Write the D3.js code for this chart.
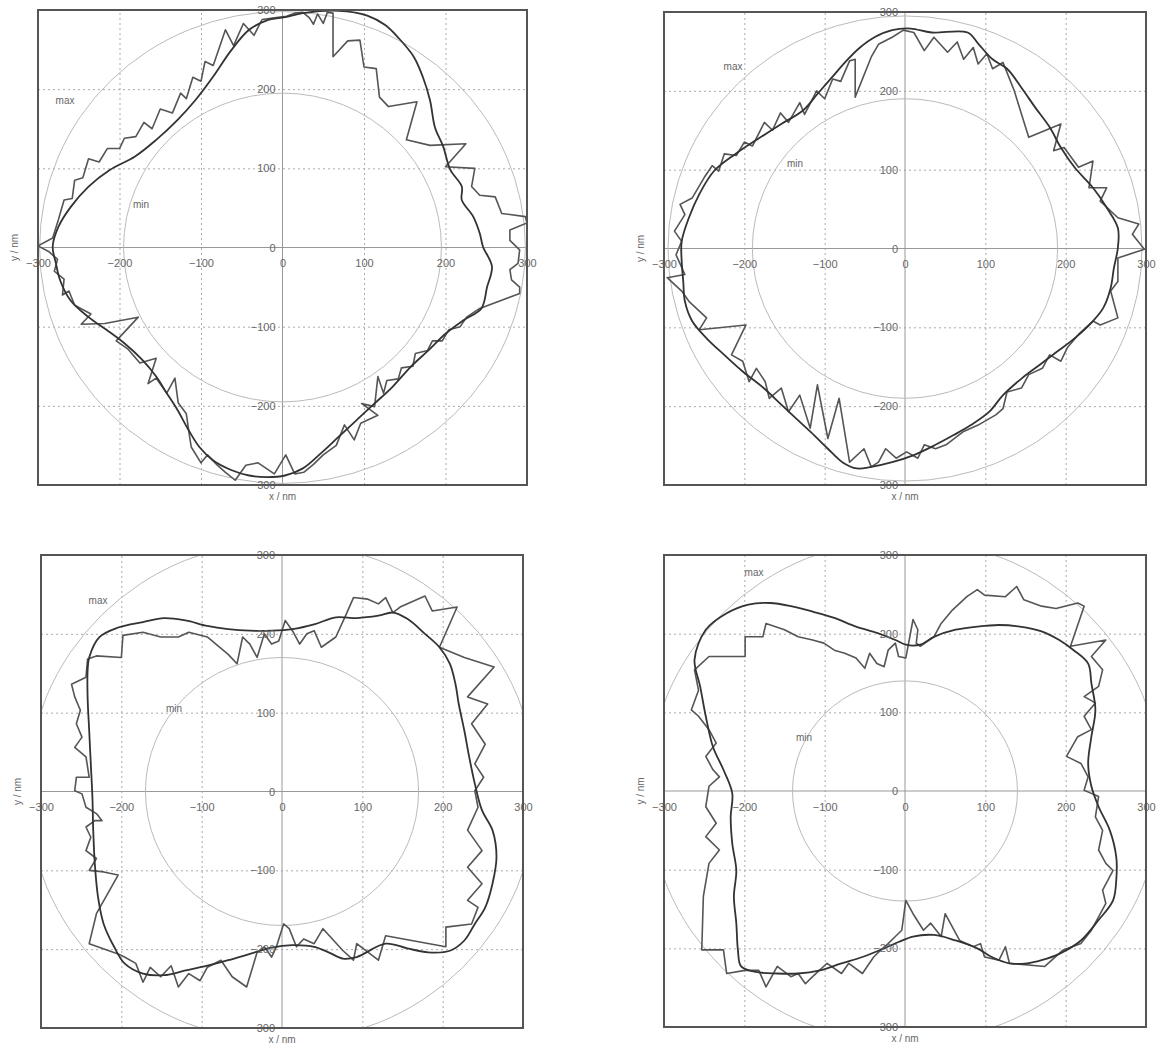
<!DOCTYPE html>
<html>
<head>
<meta charset="utf-8">
<script src="https://cdn.jsdelivr.net/npm/d3@7"></script>
<style>
  body { margin: 0; background: #fff; }
  svg { font-family: "Liberation Sans", Arial, sans-serif; }
  .tick text { fill: #666; font-size: 11px; }
  .grid line { stroke: #aaa; stroke-dasharray: 2,3; }
</style>
</head>
<body>
<svg id="chart" width="1158" height="1051"></svg>
<script>
// tick values (nm)
var ticks = [-300, -200, -100, 0, 100, 200, 300];
var gridTicks = [-200, -100, 100, 200];

// radii of the min / max reference circles (nm)
var minRadius = [195, 190, 170, 140];
var maxRadius = [298, 295, 317, 320];

// profile 1
var p1Smooth = [[3,291],[25,296],[69,299],[104,293],[126,281],[143,264],[161,241],[172,216],[181,186],[187,152],[197,128],[206,98],[220,77],[220,60],[234,39],[242,18],[246,1],[257,-24],[251,-50],[244,-77],[222,-92],[200,-109],[179,-130],[157,-151],[135,-176],[113,-197],[91,-218],[69,-239],[47,-260],[25,-279],[3,-288],[-19,-290],[-41,-288],[-63,-281],[-85,-269],[-102,-252],[-115,-231],[-129,-205],[-142,-184],[-155,-163],[-172,-142],[-194,-121],[-216,-104],[-238,-88],[-260,-67],[-273,-41],[-278,-20],[-282,1],[-275,26],[-260,51],[-238,77],[-212,98],[-181,115],[-155,136],[-129,161],[-107,186],[-85,216],[-63,249],[-41,275],[-19,287]];
var p1Zigzag = [[-48,283],[-35,268],[-25,288],[-10,290],[5,292],[15,296],[25,297],[33,290],[38,282],[43,295],[50,283],[55,297],[62,296],[62,241],[80,261],[95,262],[100,228],[115,226],[119,190],[130,178],[165,184],[152,136],[181,129],[225,131],[200,102],[236,100],[232,77],[242,66],[261,64],[269,43],[298,39],[300,31],[279,22],[279,9],[291,-3],[289,-20],[279,-28],[281,-41],[291,-50],[291,-58],[242,-77],[226,-88],[218,-100],[204,-104],[196,-118],[184,-118],[178,-130],[163,-134],[160,-150],[146,-152],[142,-166],[128,-168],[124,-184],[117,-163],[113,-201],[97,-197],[117,-212],[96,-222],[88,-243],[76,-224],[66,-250],[50,-262],[38,-274],[26,-284],[15,-286],[4,-262],[-10,-286],[-30,-272],[-45,-275],[-58,-294],[-70,-284],[-80,-275],[-92,-262],[-100,-272],[-112,-252],[-115,-232],[-118,-210],[-128,-196],[-132,-165],[-142,-184],[-155,-165],[-165,-172],[-155,-140],[-175,-146],[-190,-128],[-204,-118],[-177,-88],[-218,-96],[-247,-97],[-235,-84],[-255,-73],[-262,-55],[-270,-60],[-268,-40],[-280,-30],[-276,-15],[-287,-5],[-300,2],[-282,12],[-275,35],[-268,60],[-258,62],[-255,85],[-245,88],[-238,112],[-225,108],[-215,125],[-200,125],[-194,138],[-180,140],[-170,158],[-160,150],[-150,175],[-135,170],[-125,195],[-118,188],[-110,215],[-100,210],[-95,235],[-85,230],[-70,275],[-60,255]];

// profile 2
var p2Smooth = [[-38,268],[-16,277],[7,279],[33,274],[78,274],[91,260],[109,240],[127,228],[145,204],[162,179],[180,154],[194,128],[211,103],[234,77],[251,52],[265,26],[265,1],[260,-25],[256,-50],[247,-75],[234,-92],[211,-114],[189,-131],[167,-148],[145,-165],[122,-186],[105,-207],[82,-224],[60,-237],[38,-249],[11,-262],[-16,-271],[-42,-277],[-60,-279],[-78,-271],[-96,-254],[-113,-237],[-131,-220],[-154,-198],[-176,-177],[-202,-156],[-225,-135],[-247,-114],[-265,-92],[-274,-67],[-276,-42],[-278,-16],[-278,9],[-269,39],[-256,69],[-238,98],[-211,120],[-180,141],[-154,158],[-127,175],[-109,196],[-91,217],[-73,238],[-56,255]];
var p2Zigzag = [[-2,277],[11,274],[24,251],[36,268],[53,249],[65,262],[73,240],[85,255],[91,234],[102,247],[109,228],[122,236],[131,213],[136,200],[154,141],[194,158],[185,124],[198,128],[216,103],[234,111],[229,77],[251,77],[243,60],[265,39],[291,31],[283,18],[298,-1],[265,-12],[265,-42],[256,-54],[265,-88],[243,-97],[234,-92],[216,-109],[202,-126],[194,-143],[180,-135],[171,-152],[154,-160],[145,-177],[127,-182],[122,-203],[113,-211],[91,-224],[73,-232],[51,-249],[38,-254],[24,-249],[16,-266],[2,-258],[-11,-266],[-24,-254],[-33,-271],[-42,-277],[-51,-254],[-69,-271],[-82,-190],[-96,-241],[-109,-173],[-118,-228],[-131,-186],[-145,-207],[-154,-177],[-169,-190],[-174,-169],[-185,-152],[-194,-169],[-202,-143],[-216,-135],[-198,-97],[-256,-103],[-247,-88],[-269,-67],[-278,-54],[-296,-37],[-274,-33],[-285,-8],[-278,9],[-287,22],[-274,43],[-280,56],[-265,64],[-250,90],[-240,105],[-232,98],[-225,120],[-210,118],[-200,135],[-190,130],[-175,160],[-165,150],[-155,172],[-145,160],[-131,185],[-125,170],[-110,200],[-100,190],[-90,215],[-80,212],[-69,238],[-62,240],[-62,192],[-42,243],[-33,259],[-16,268]];

// profile 3
var p3Smooth = [[-240,170],[-227,196],[-204,208],[-173,215],[-147,220],[-120,217],[-93,210],[-67,206],[-40,204],[-13,204],[13,206],[40,212],[67,221],[93,220],[120,223],[138,227],[156,219],[178,200],[196,183],[209,162],[216,136],[220,111],[227,77],[233,44],[240,10],[249,-24],[262,-49],[267,-83],[262,-117],[253,-147],[240,-168],[227,-189],[209,-202],[182,-204],[156,-199],[129,-193],[93,-210],[76,-212],[58,-204],[40,-197],[13,-195],[-13,-198],[-40,-206],[-67,-214],[-93,-221],[-120,-227],[-147,-233],[-173,-231],[-196,-218],[-209,-197],[-222,-168],[-229,-134],[-233,-92],[-235,-49],[-236,-7],[-238,35],[-240,77],[-242,120],[-242,153]];
var p3Zigzag = [[-242,168],[-231,172],[-200,170],[-198,198],[-173,202],[-151,196],[-129,196],[-116,202],[-93,196],[-67,174],[-56,162],[-49,196],[-40,187],[-31,170],[-22,200],[-13,187],[-4,191],[4,217],[13,204],[22,187],[31,200],[40,204],[49,183],[67,196],[80,225],[89,246],[107,244],[120,238],[129,246],[138,227],[147,234],[178,248],[187,229],[218,234],[196,183],[227,170],[264,158],[231,120],[256,111],[236,86],[253,60],[240,35],[251,18],[240,1],[244,-20],[231,-49],[249,-75],[231,-96],[249,-117],[231,-138],[244,-147],[236,-168],[204,-172],[204,-197],[129,-183],[120,-214],[93,-193],[89,-214],[76,-202],[51,-174],[40,-193],[27,-187],[18,-197],[9,-174],[2,-168],[-7,-197],[-13,-210],[-22,-197],[-31,-204],[-44,-248],[-62,-235],[-76,-214],[-93,-223],[-102,-240],[-116,-231],[-129,-248],[-138,-221],[-151,-235],[-164,-223],[-173,-242],[-182,-218],[-196,-210],[-204,-206],[-240,-193],[-231,-155],[-204,-106],[-222,-102],[-240,-100],[-231,-85],[-244,-75],[-238,-58],[-244,-45],[-233,-37],[-224,-37],[-231,-28],[-244,-20],[-249,-3],[-258,1],[-256,18],[-240,18],[-244,44],[-258,56],[-249,69],[-256,86],[-251,103],[-258,120],[-262,136],[-244,145]];

// profile 4
var p4Smooth = [[-248,205],[-222,226],[-195,237],[-168,239],[-142,235],[-115,228],[-88,220],[-61,209],[-35,201],[-12,192],[1,186],[19,186],[36,196],[63,205],[90,209],[117,211],[143,209],[170,203],[192,192],[210,179],[228,162],[232,137],[237,103],[232,69],[228,35],[232,6],[241,-20],[255,-50],[263,-84],[263,-113],[259,-139],[241,-164],[219,-190],[192,-207],[170,-215],[152,-219],[130,-219],[108,-211],[90,-200],[63,-190],[36,-183],[10,-185],[-8,-192],[-26,-200],[-53,-211],[-79,-219],[-106,-228],[-133,-232],[-159,-232],[-186,-230],[-204,-223],[-208,-202],[-210,-168],[-213,-134],[-210,-101],[-215,-67],[-217,-33],[-215,-3],[-226,27],[-239,56],[-248,95],[-255,133],[-262,167]];
var p4Zigzag = [[-199,171],[-199,196],[-177,196],[-173,213],[-150,205],[-133,196],[-115,192],[-101,188],[-88,179],[-75,175],[-61,169],[-50,156],[-44,175],[-35,162],[-26,158],[-21,179],[-12,188],[-8,171],[1,169],[10,218],[16,205],[14,188],[19,184],[36,196],[45,213],[59,230],[77,247],[90,256],[99,249],[125,247],[139,260],[148,243],[170,235],[188,232],[215,239],[223,235],[206,184],[250,192],[232,171],[246,154],[241,133],[223,120],[237,112],[223,95],[232,78],[215,69],[201,44],[219,35],[228,18],[223,1],[232,-3],[241,-7],[237,-33],[246,-50],[241,-75],[250,-92],[259,-101],[246,-126],[250,-143],[241,-160],[232,-177],[219,-194],[197,-202],[174,-223],[130,-219],[125,-198],[117,-215],[99,-211],[94,-194],[85,-198],[68,-190],[50,-156],[45,-185],[32,-168],[23,-177],[10,-156],[1,-139],[-4,-177],[-12,-185],[-21,-194],[-30,-202],[-39,-211],[-53,-232],[-70,-219],[-79,-232],[-97,-219],[-115,-236],[-124,-245],[-133,-232],[-142,-236],[-159,-223],[-173,-249],[-182,-228],[-199,-228],[-222,-232],[-226,-202],[-253,-202],[-251,-134],[-244,-92],[-231,-75],[-248,-58],[-235,-41],[-248,-20],[-244,6],[-231,18],[-239,27],[-248,44],[-235,61],[-244,78],[-257,95],[-266,103],[-257,128],[-262,154],[-244,171]];

var labelNames = ["max", "min"];

// panel frames (pixels) and label spots
var panels = [
  {left: 38,  right: 527,  top: 10,  bottom: 485,  smooth: p1Smooth, zig: p1Zigzag, maxAt: [65, 104],  minAt: [141, 208]},
  {left: 664, right: 1146, top: 12,  bottom: 485,  smooth: p2Smooth, zig: p2Zigzag, maxAt: [733, 70],  minAt: [795, 167]},
  {left: 41,  right: 523,  top: 555, bottom: 1028, smooth: p3Smooth, zig: p3Zigzag, maxAt: [98, 604],  minAt: [174, 712]},
  {left: 664, right: 1146, top: 555, bottom: 1027, smooth: p4Smooth, zig: p4Zigzag, maxAt: [754, 576], minAt: [804, 741]}
];

var svg = d3.select("#chart");

panels.forEach(function(p, i) {
  var x = d3.scaleLinear().domain([-300, 300]).range([p.left, p.right]);
  var y = d3.scaleLinear().domain([-300, 300]).range([p.bottom, p.top]);
  var w = p.right - p.left, h = p.bottom - p.top;

  svg.append("clipPath").attr("id", "clip" + i)
    .append("rect").attr("x", p.left).attr("y", p.top).attr("width", w).attr("height", h);

  var g = svg.append("g");
  var inner = g.append("g").attr("clip-path", "url(#clip" + i + ")");

  // dotted grid
  inner.append("g").attr("class", "grid")
    .attr("transform", `translate(0, ${p.bottom})`)
    .call(d3.axisBottom(x).tickValues(gridTicks).tickSize(-h).tickFormat(""))
    .call(s => s.select(".domain").remove());
  inner.append("g").attr("class", "grid")
    .attr("transform", `translate(${p.left}, 0)`)
    .call(d3.axisLeft(y).tickValues(gridTicks).tickSize(-w).tickFormat(""))
    .call(s => s.select(".domain").remove());

  // zero lines
  inner.append("line").attr("x1", p.left).attr("x2", p.right)
    .attr("y1", y(0)).attr("y2", y(0)).attr("stroke", "#999");
  inner.append("line").attr("x1", x(0)).attr("x2", x(0))
    .attr("y1", p.top).attr("y2", p.bottom).attr("stroke", "#999");

  // min / max circles
  [minRadius[i], maxRadius[i]].forEach(function(r) {
    inner.append("ellipse")
      .attr("cx", x(0)).attr("cy", y(0))
      .attr("rx", x(r) - x(0)).attr("ry", y(0) - y(r))
      .attr("fill", "none").attr("stroke", "#bbb").attr("stroke-width", 1);
  });

  // profiles
  var line = d3.line().x(d => x(d[0])).y(d => y(d[1]));
  inner.append("path")
    .attr("d", line.curve(d3.curveLinearClosed)(p.zig))
    .attr("fill", "none").attr("stroke", "#555").attr("stroke-width", 1.6)
    .attr("stroke-linejoin", "round");
  inner.append("path")
    .attr("d", line.curve(d3.curveCatmullRomClosed)(p.smooth))
    .attr("fill", "none").attr("stroke", "#333").attr("stroke-width", 1.8);

  // tick labels along the zero lines
  g.append("g")
    .attr("transform", `translate(0, ${y(0)})`)
    .call(d3.axisBottom(x).tickValues(ticks).tickSize(0).tickPadding(12))
    .call(s => s.select(".domain").remove());
  g.append("g")
    .attr("transform", `translate(${x(0)}, 0)`)
    .call(d3.axisLeft(y).tickValues(ticks).tickSize(0).tickPadding(7))
    .call(s => s.select(".domain").remove());

  // circle labels
  [p.maxAt, p.minAt].forEach(function(pos, k) {
    g.append("text").attr("x", pos[0]).attr("y", pos[1])
      .attr("text-anchor", "middle").attr("font-size", 10).attr("fill", "#666")
      .text(labelNames[k]);
  });

  // axis titles
  g.append("text")
    .attr("x", x(0)).attr("y", p.bottom + 15)
    .attr("text-anchor", "middle").attr("font-size", 10).attr("fill", "#666")
    .text("x / nm");
  g.append("text")
    .attr("transform", `translate(${p.left - 20}, ${y(0)}) rotate(-90)`)
    .attr("text-anchor", "middle").attr("font-size", 10).attr("fill", "#666")
    .text("y / nm");

  // frame
  g.append("rect")
    .attr("x", p.left).attr("y", p.top).attr("width", w).attr("height", h)
    .attr("fill", "none").attr("stroke", "#555").attr("stroke-width", 2);
});
</script>
</body>
</html>
